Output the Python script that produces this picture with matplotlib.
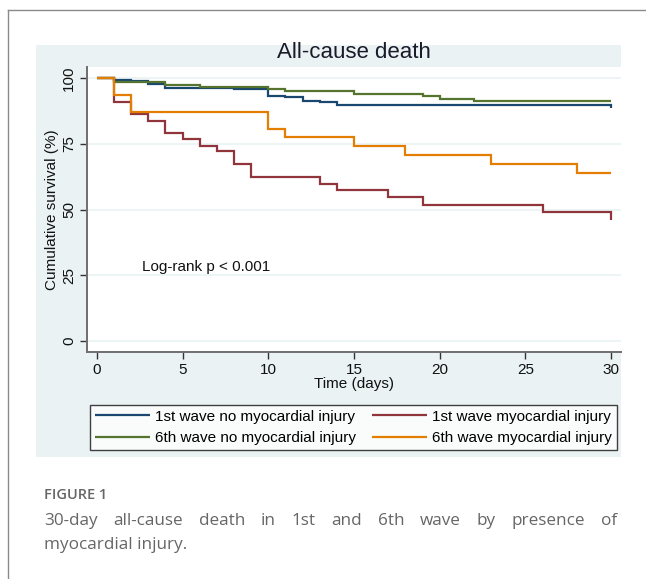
import matplotlib
matplotlib.use("Agg")
import matplotlib.pyplot as plt
from matplotlib.patches import Rectangle
from matplotlib.lines import Line2D

# ---------------- data ----------------
t_w1_nomi = [0, 1, 2, 3, 4, 8, 10, 11, 12, 13, 14, 30]
s_w1_nomi = [100, 99.5, 98.8, 97.8, 96.3, 95.8, 93.4, 92.7, 91.5, 90.8, 90.0, 88.8]

t_w1_mi = [0, 1, 2, 3, 4, 5, 6, 7, 8, 9, 13, 14, 17, 19, 26, 30]
s_w1_mi = [100, 90.8, 86.5, 83.6, 79.2, 76.7, 74.4, 72.2, 67.4, 62.5, 59.8, 57.4, 54.7, 51.8, 49.0, 45.9]

t_w6_nomi = [0, 1, 4, 6, 10, 11, 15, 19, 20, 22, 30]
s_w6_nomi = [100, 98.4, 97.6, 96.7, 95.8, 95.0, 94.1, 93.4, 92.2, 91.2, 91.2]

t_w6_mi = [0, 1, 2, 10, 11, 15, 18, 23, 28, 30]
s_w6_mi = [100, 93.8, 87.0, 80.7, 77.5, 74.1, 70.8, 67.5, 64.0, 64.0]

labels = ["1st wave no myocardial injury", "1st wave myocardial injury",
          "6th wave no myocardial injury", "6th wave myocardial injury"]
colors = ["#1a476f", "#90353b", "#55752f", "#e37e00"]
xticks = [0, 5, 10, 15, 20, 25, 30]
yticks = [0, 25, 50, 75, 100]

title = "All-cause death"
xlabel = "Time (days)"
ylabel = "Cumulative survival (%)"
annot = "Log-rank p < 0.001"
cap_head = "FIGURE 1"
cap_line1 = "30-day all-cause death in 1st and 6th wave by presence of"
cap_line2 = "myocardial injury."

# ---------------- figure ----------------
W, H = 646, 579
DPI = 100
plt.rcParams['font.family'] = ['Liberation Sans', 'DejaVu Sans']
fig = plt.figure(figsize=(W / DPI, H / DPI), dpi=DPI)
fig.patch.set_facecolor("white")

def fx(px):
    return px / W

def fy(py):
    return 1 - py / H

# outer page frame
fig.add_artist(Line2D([fx(8), 1.0], [fy(10), fy(10)], color="#8a8a8a", lw=1.0))
fig.add_artist(Line2D([fx(8), fx(8)], [fy(10), 0.0], color="#8a8a8a", lw=1.0))

# graph region (light bluish background)
fig.add_artist(Rectangle((fx(36), fy(457)), fx(621) - fx(36), fy(45) - fy(457),
                         facecolor="#eaf2f3", edgecolor="none", zorder=0))

# plot axes
L, R, T, B = 87, 621, 67, 352
ax = fig.add_axes([fx(L), fy(B), fx(R) - fx(L), fy(T) - fy(B)])
ax.set_facecolor("white")
ax.set_zorder(1)

series = [(t_w1_nomi, s_w1_nomi), (t_w1_mi, s_w1_mi),
          (t_w6_nomi, s_w6_nomi), (t_w6_mi, s_w6_mi)]
handles = []
for (t, s), c, lab in zip(series, colors, labels):
    h, = ax.plot(t, s, drawstyle="steps-post", color=c, lw=1.6, label=lab,
                 solid_joinstyle="miter", solid_capstyle="butt")
    handles.append(h)

ax.set_xlim(-0.58, 30.58)
ax.set_ylim(-4.2, 104.3)
ax.set_xticks(xticks)
ax.set_yticks(yticks)
ax.yaxis.grid(True, color="#eaf2f3", lw=1.2)
ax.set_axisbelow(True)
for sp in ["top", "right"]:
    ax.spines[sp].set_visible(False)
for sp in ["left", "bottom"]:
    ax.spines[sp].set_color("#6e6e6e")
    ax.spines[sp].set_linewidth(1.4)
ax.tick_params(axis="both", direction="out", length=5, width=1.0, color="#333333",
               labelsize=11, labelcolor="#111111", pad=3)
for lab in ax.get_yticklabels():
    lab.set_rotation(90)
    lab.set_va("center")
ax.set_xlabel(xlabel, fontsize=11, color="#111111", labelpad=0)
ax.set_ylabel(ylabel, fontsize=11, color="#111111", labelpad=2)

ax.text(2.63, 28.2, annot, fontsize=11, color="#111111", ha="left", va="center")

# title (over plot area)
fig.text(fx((L + R) / 2), fy(53), title, fontsize=16, color="#1a1a2a",
         ha="center", va="center")

# legend: row-wise order (blue, red / green, orange)
order = [0, 2, 1, 3]
leg = fig.legend([handles[i] for i in order], [labels[i] for i in order],
                 loc="center", bbox_to_anchor=(fx(353.5), fy(427.5)), ncol=2,
                 fontsize=11, frameon=True, fancybox=False, handlelength=3.6,
                 handletextpad=0.3, columnspacing=1.1, labelspacing=0.5,
                 borderpad=0.3, borderaxespad=0)
leg.get_frame().set_edgecolor("#111111")
leg.get_frame().set_linewidth(1.0)
leg.get_frame().set_facecolor("white")
for line in leg.get_lines():
    line.set_linewidth(1.6)

# caption
cap_color = "#666666"
fig.text(fx(44), fy(495), cap_head, fontsize=10.5, color=cap_color,
         family=["Open Sans", "DejaVu Sans"], weight="semibold",
         ha="left", va="center")

# justified first caption line
fig.canvas.draw()
renderer = fig.canvas.get_renderer()
words = cap_line1.split(" ")
cap_kw = dict(fontsize=12.3, color=cap_color, family=["Open Sans", "DejaVu Sans"],
              weight="normal", va="center", ha="left")
tmp = [fig.text(0, 0, w, **cap_kw) for w in words]
widths = [tt.get_window_extent(renderer).width for tt in tmp]
for tt in tmp:
    tt.remove()
x0, x1 = 44, 617
gap = (x1 - x0 - sum(widths)) / (len(words) - 1)
x = x0
for w, wd in zip(words, widths):
    fig.text(fx(x), fy(521), w, **cap_kw)
    x += wd + gap
fig.text(fx(44), fy(545), cap_line2, **cap_kw)

fig.savefig("out.png", dpi=DPI)
